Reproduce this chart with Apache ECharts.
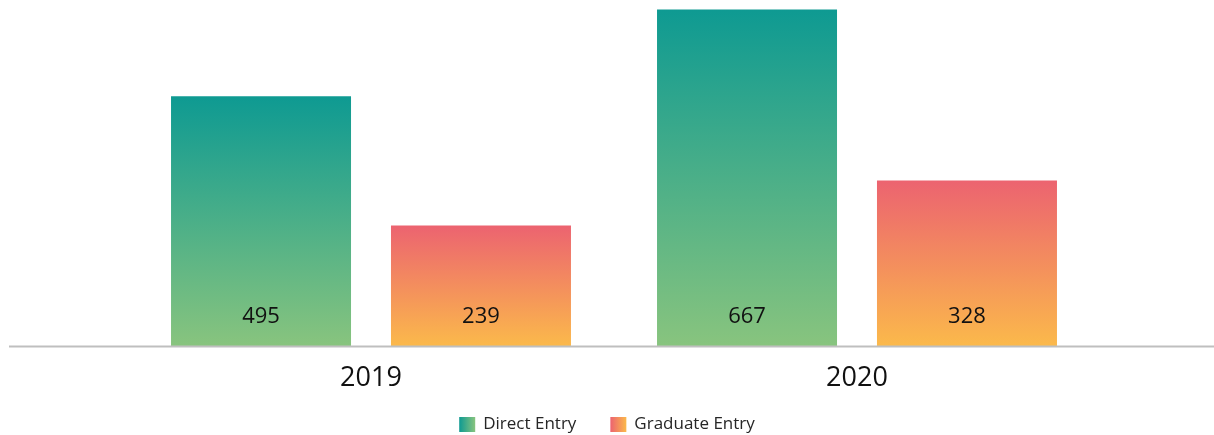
<!DOCTYPE html>
<html>
<head>
<meta charset="utf-8">
<script src="https://cdn.jsdelivr.net/npm/echarts@6/dist/echarts.min.js"></script>
<style>
  html, body { margin: 0; padding: 0; background: #ffffff; }
  #chart { width: 1214px; height: 435px; }
</style>
</head>
<body>
<div id="chart"></div>
<script>
// Intake by year and entry route
const years = ['2019', '2020'];
const directEntry = [495, 667];
const graduateEntry = [239, 328];
const seriesNames = ['Direct Entry', 'Graduate Entry'];

const FONT = '"Open Sans", "Noto Sans", sans-serif';

function vGrad(top, bottom) {
  return new echarts.graphic.LinearGradient(0, 0, 0, 1, [
    { offset: 0, color: top },
    { offset: 1, color: bottom }
  ]);
}
function hGrad(left, right) {
  return new echarts.graphic.LinearGradient(0, 0, 1, 0, [
    { offset: 0, color: left },
    { offset: 1, color: right }
  ]);
}

const DIRECT = ['#0e9a92', '#88c47e'];
const GRAD = ['#ec6370', '#fbb94b'];

const labelStyle = {
  show: true,
  position: 'insideBottom',
  distance: 18,
  color: '#111111',
  fontSize: 22,
  fontFamily: FONT
};

const chart = echarts.init(document.getElementById('chart'));
chart.setOption({
  animation: false,
  backgroundColor: '#ffffff',
  grid: { left: 128, right: 114, top: 3, bottom: 89, containLabel: false },
  legend: {
    left: 'center',
    top: 416,
    padding: 0,
    itemWidth: 16,
    itemHeight: 15,
    itemGap: 34,
    icon: 'rect',
    textStyle: { fontSize: 17, color: '#262626', fontFamily: FONT, padding: [0, 0, 0, 3] },
    data: [
      { name: seriesNames[0], itemStyle: { color: hGrad(DIRECT[0], DIRECT[1]) } },
      { name: seriesNames[1], itemStyle: { color: hGrad(GRAD[0], GRAD[1]) } }
    ]
  },
  xAxis: {
    type: 'category',
    data: years,
    axisLine: { show: false },
    axisTick: { show: false },
    axisLabel: { fontSize: 27, color: '#111111', fontFamily: FONT, margin: 19 }
  },
  yAxis: {
    type: 'value',
    min: 0,
    max: 680,
    show: false,
    splitLine: { show: false }
  },
  graphic: [{
    type: 'line',
    shape: { x1: 9, y1: 346.5, x2: 1214, y2: 346.5 },
    style: { stroke: '#bfbfbf', lineWidth: 2 },
    z: 10
  }],
  series: [
    {
      name: seriesNames[0],
      type: 'bar',
      data: directEntry,
      barWidth: 180,
      barGap: '22.2%',
      itemStyle: { color: vGrad(DIRECT[0], DIRECT[1]) },
      label: labelStyle
    },
    {
      name: seriesNames[1],
      type: 'bar',
      data: graduateEntry,
      barWidth: 180,
      barGap: '22.2%',
      itemStyle: { color: vGrad(GRAD[0], GRAD[1]) },
      label: labelStyle
    }
  ]
});
</script>
</body>
</html>
